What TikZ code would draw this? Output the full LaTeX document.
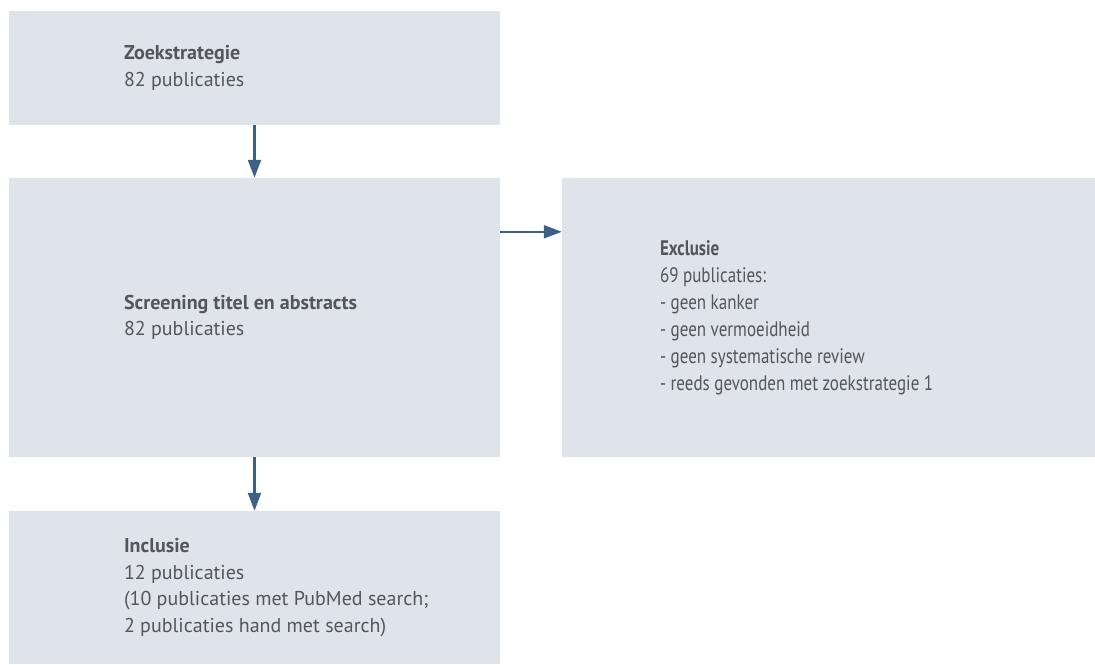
\documentclass[tikz,border=0pt]{standalone}
\usepackage{fontspec}
\setmainfont{PT Sans}
\newfontfamily\narrowfont{PT Sans}[FakeStretch=0.81]
\usepackage{xcolor}
\usepackage{tikz}
\usetikzlibrary{positioning,arrows.meta}
\definecolor{boxfill}{HTML}{DFE3EA}
\definecolor{textgray}{HTML}{53575B}
\definecolor{arrowblue}{HTML}{3B6286}

\begin{document}
\begin{tikzpicture}[x=1pt,y=1pt,
    box/.style={fill=boxfill, inner sep=0, minimum width=491pt},
    txt/.style={inner sep=0, align=left, text=textgray, font=\fontsize{20}{26.7}\selectfont},
    flow/.style={draw=arrowblue, line width=2.3pt, -{Triangle[length=18pt,width=13pt]}}]
    \useasboundingbox (0,0) rectangle (1095,664);

    \node[box, minimum height=114pt] (zoek) at (254.5,596) {};
    \node[box, minimum height=279pt] (screen) at (254.5,346.5) {};
    \node[box, minimum height=279pt, minimum width=533pt] (excl) at (828.5,346.5) {};
    \node[box, minimum height=153pt] (incl) at (254.5,76.5) {};

    \node[txt, right=115pt of zoek.west] (zoektxt) {\textbf{Zoekstrategie}\\82 publicaties};
    \node[txt, right=115pt of screen.west] (screentxt) {\textbf{Screening titel en abstracts}\\82 publicaties};
    \node[txt, right=98pt of excl.west, font=\narrowfont\fontsize{21}{27}\selectfont] (excltxt) {\textbf{Exclusie}\\69 publicaties:\\- geen kanker\\- geen vermoeidheid\\- geen systematische review\\- reeds gevonden met zoekstrategie 1};
    \node[txt, right=115pt of incl.west] (incltxt) {\textbf{Inclusie}\\12 publicaties\\(10 publicaties met PubMed search;\\2 publicaties hand met search)};

    \draw[flow] (zoek) -- (screen);
    \draw[flow] ([yshift=-54pt]screen.north east) -- ([yshift=-54pt]excl.north west);
    \draw[flow] (screen) -- (incl);

\end{tikzpicture}
\end{document}
